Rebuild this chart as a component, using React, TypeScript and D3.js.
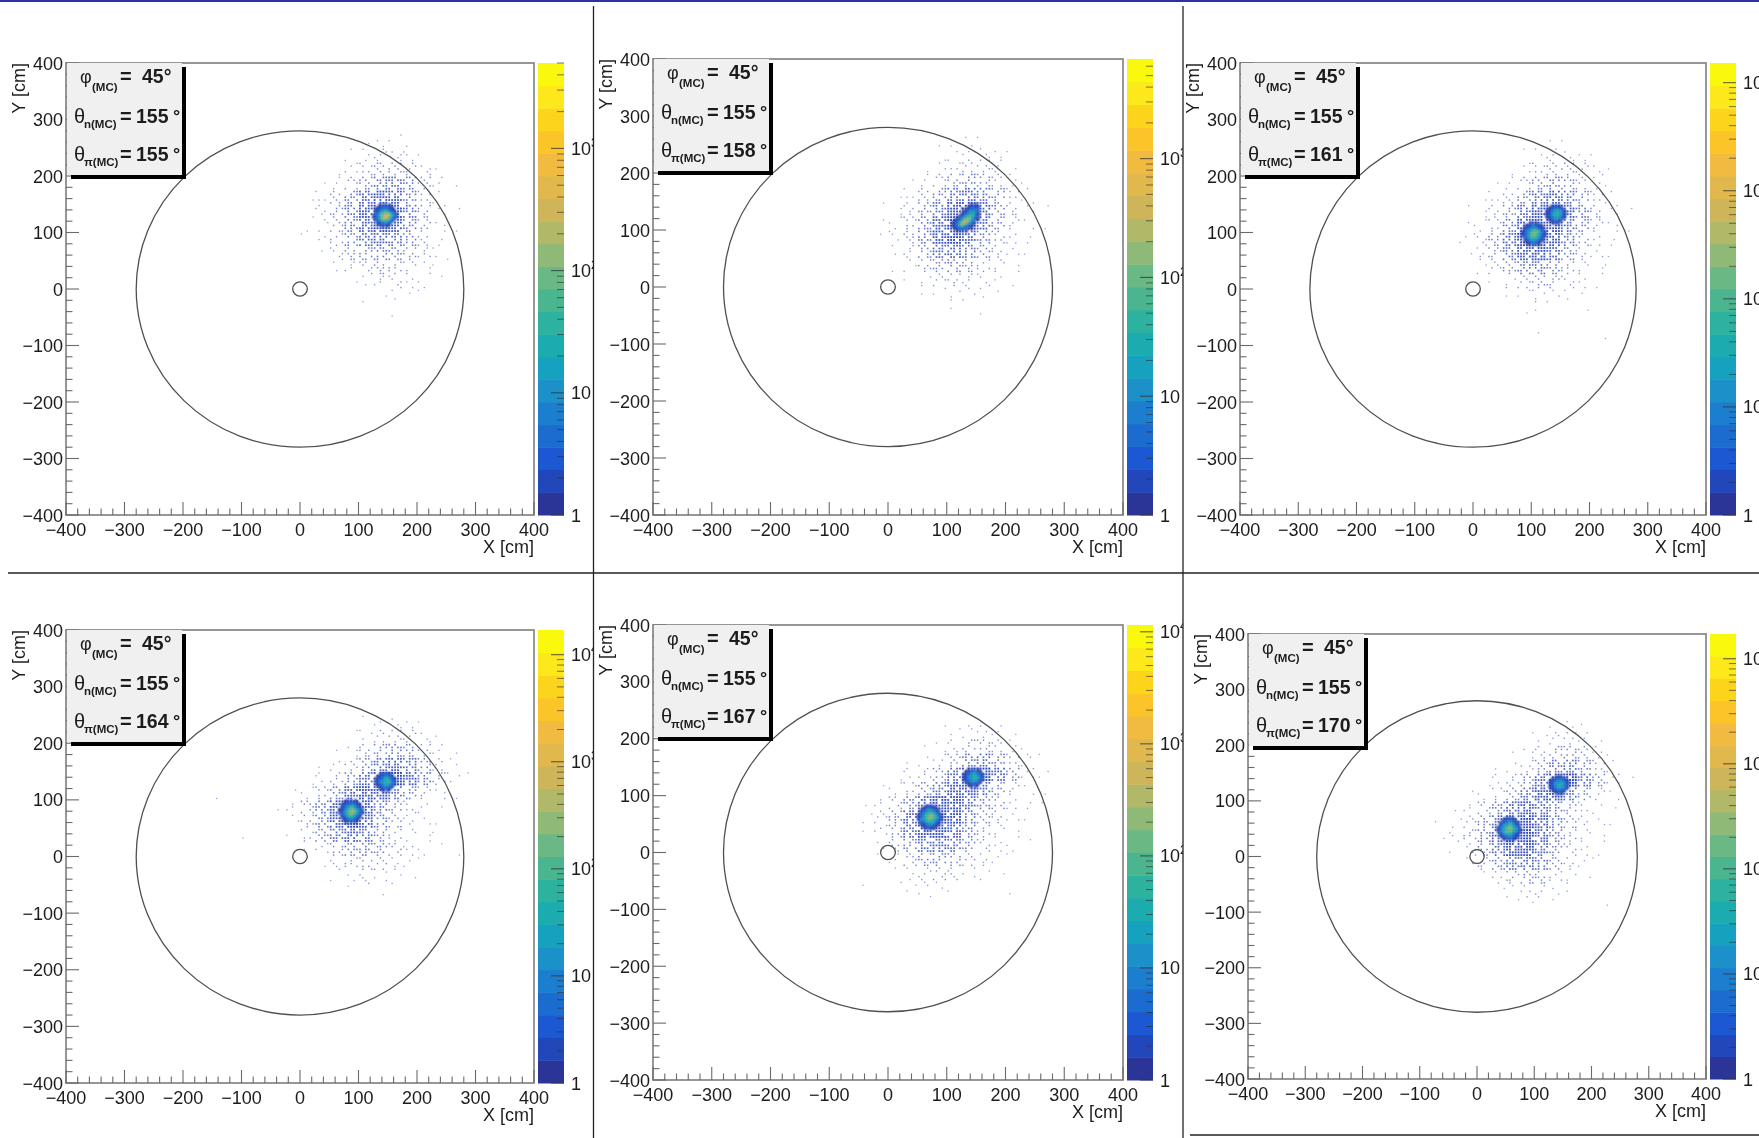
import React from "react";
import * as d3 from "d3";

// ---------- values ----------
const THETA_PI = [155, 158, 161, 164, 167, 170];
const PHI = 45;
const THETA_N = 155;
const AXIS_TICKS = [-400, -300, -200, -100, 0, 100, 200, 300, 400];
const MINOR_STEP = 20;
const BAR_MAX = [5000, 6900, 15200, 17000, 11500, 17200];
const DECADES = [1, 10, 100, 1000, 10000];
const OUTER_R = 280;
const HOLE_R = 12.5;
const BIRD = ["#2b3597","#2146bb","#1a58d2","#1e6cd0","#1f7ece","#1a90c8","#16a2be","#1eacb0","#2eb2a0","#4cb58f","#6ab884","#8fb976","#b1b968","#cfb55a","#e0b84e","#f0bb3f","#fbc52c","#fdd41f","#fde81a","#f9f80e"];

// halo: occupied 5 cm bins per 25 cm cell (base 36), x from -150, rows from y=300 downward
const HALO_1 = ["000000000000000000","000000000012210000","000000000235431000","000000001468864100","0000000136aefc7310","000000137chkic6200","000000148eknlf8310","000000137dimjd7310","000000126bghfb6200","0000000158acb85210","000000002468753100","000000000124532100","000000000011211000","000000000000100000"];
const HALO_2 = ["000000000000000000","000000000001100000","000000000123321000","000000001346641000","00000001369b963100","000000137bfhea5200","00000125aflmib6310","00000137cjnnha5210","00000137dkmic74200","00000025aghea63100","000000137ab9642000","000000013565421000","000000001233210000","000000000010100000"];
const HALO_3 = ["000000000000000000","000000000001100000","000000000124321000","000000001357753100","0000000136aca63100","000000136bgifa5200","00000125aglnjd7310","00000136dkmlgb6310","0000025ahmnke84200","00000148ejlhb63100","000000259deb742100","000000013687531000","000000001243210000","000000000110010000","000000000000000000","000000000010000100"];
const HALO_4 = ["000000000000000000","000000000000000000","000000000012321000","000000000135653100","00000000137aca6310","0000000136bgifa520","000000136bhmnjd731","10000137cilkfb6310","0000138dknke953100","0000027cjnjc842100","0010015afifa632100","000000148bca742110","000000014676421000","000000001243210000","000000000101000000"];
const HALO_5 = ["000000000000000000","000000000000000000","000000000000000000","000000000123431000","000000001247863100","00000001248dfb6310","0000001359gmnha420","00000136afkkga5210","0000137cimlhc84210","000025ahmnle963100","0000149glmic742000","0000026bghfa632100","00000137ab96421000","000000135653210000","000010123210001000","000000001000000000"];
const HALO_6 = ["000000000000000000","000000000000000000","000000000001210000","000000000124531000","000000001358974100","00000001259efb6200","000000136ahmnga410","000001259fkkf94200","0000137chjgc842100","000125aglmjd842100","000137cinnic742000","000015agllga631000","0000026bfge9521000","000000147985310000","000000012442100000","000000001101000100"];
const HALOS = [HALO_1, HALO_2, HALO_3, HALO_4, HALO_5, HALO_6];
const LATTICE_ORDER = [12,3,21,9,16,0,18,6,24,14,2,20,8,11,23,5,17,1,13,22,10,4,19,7,15];

// cores: palette level per fine bin, rows top to bottom; "." is no core bin
const CORE_BIN = 4;
const CORE_1 = { x: 145, y: 130, rows: ["...0.1.0...","..0112110..",".012344210.",".124677421.",".1368ba8631","0247adeb741","1258bed9632",".136897631.","..1246532..","..012210...","....0.0...."] };
const CORE_2 = { x: 130, y: 122, rows: [".........0.1.","........01110",".....0.012321","......0134541",".....01356731","....013578730","...01368a8520","..0136acb7410",".0136adb852..",".0248ca7520..",".013674310...","..012321.0...","...0.1.0....."] };
const CORE_3A = { x: 104, y: 98, rows: ["....0.0....","..0112110..",".012344210.",".124577421.","012579a7531","01369ba8520","12479a97421",".135787531.",".013565310.","..0123210..","...0.1.0..."] };
const CORE_3B = { x: 142, y: 131, rows: ["..01210..",".0123321.","012467420","013578631","123678531","012567420",".0134421.","..01210..","...0.0..."] };
const CORE_4A = { x: 87, y: 80, rows: ["...0.1.0...","..0112110..",".012244210.",".124677421.","01258aa7531","01369bc9631","12479ba8421",".135897531.",".012565310.","..0123210..","...0.1.0..."] };
const CORE_4B = { x: 146, y: 131, rows: ["..01110..",".0123321.","012467320","123578531","124678642","012567431",".0234421.","..01210..","...0.1..."] };
const CORE_5A = { x: 71, y: 62, rows: ["...01110...","..0123210..",".012456310.",".135687531.","02479ab8630","02479bb9741","13579a97520",".135787531.",".012465310.","..0123210..","...01110..."] };
const CORE_5B = { x: 145, y: 131, rows: ["..0.1.0..",".0123310.","012466320","023577531","123678642","023567420",".0134321.","..01210..","...0.0..."] };
const CORE_6A = { x: 56, y: 49, rows: ["...01110...","..0124210..",".012456310.",".135688531.","02469aa7530","02479ba8641","13579a97520",".135787421.",".012455310.","..0123210..","...0.1.0..."] };
const CORE_6B = { x: 143, y: 128, rows: ["...010...",".0122310.","012456320","123567431","123677532","012566420",".0134321.","..01210..","...0.1..."] };
const CORES = [[CORE_1], [CORE_2], [CORE_3A, CORE_3B], [CORE_4A, CORE_4B], [CORE_5A, CORE_5B], [CORE_6A, CORE_6B]];

// ---------- layout ----------
const FRAMES = [
  { x0: 66, x1: 534, y0: 63, y1: 515, clip: 593 },
  { x0: 653, x1: 1123, y0: 59, y1: 515, clip: 1183 },
  { x0: 1240, x1: 1706, y0: 63, y1: 515, clip: 1759 },
  { x0: 66, x1: 534, y0: 630, y1: 1083, clip: 593 },
  { x0: 653, x1: 1123, y0: 625, y1: 1080, clip: 1183 },
  { x0: 1248, x1: 1706, y0: 634, y1: 1079, clip: 1759 },
];
const FONT = "'Liberation Sans', Arial, sans-serif";
const INK = "#1c1c1c";
const AXIS = "#6a6a6a";
const fmt = (v: number) => (v < 0 ? "\u2212" + Math.abs(v) : String(v));

function Row({ lx, y, greek, sub, value, deg }: { lx: number; y: number; greek: string; sub: string; value: string; deg: boolean }) {
  return (
    <g fill={INK}>
      <text x={lx + (deg ? 7 : 13)} y={y} fontSize={deg ? 20 : 18}>{greek}</text>
      <text x={lx + (deg ? 17 : 25)} y={y + (deg ? 5 : 8)} fontSize={11.5} fontWeight="bold">{sub}</text>
      <text x={lx + 53} y={y} fontSize={20} fontWeight="bold">=</text>
      <text x={lx + (deg ? 69 : 75)} y={y} fontSize={19.5} fontWeight="bold">{value}</text>
      {deg ? <text x={lx + 106} y={y - 1} fontSize={18} fontWeight="bold">°</text> : null}
    </g>
  );
}

function Panel({ i }: { i: number }) {
  const f = FRAMES[i];
  const x = d3.scaleLinear().domain([-400, 400]).range([f.x0, f.x1]);
  const y = d3.scaleLinear().domain([-400, 400]).range([f.y1, f.y0]);
  const bar = d3.scaleLog().domain([1, BAR_MAX[i]]).range([f.y1, f.y0]);
  const band = d3.scaleLinear().domain([0, BIRD.length]).range([f.y1, f.y0]);
  const barL = f.x1 + 4;
  const barR = f.x1 + 30;
  const minors = d3.range(-400, 401, MINOR_STEP);
  const dens = d3.scaleLinear().domain([1, 25]).range([0.5, 1]);
  const size = d3.scaleLinear().domain([1, 25]).range([1.25, 2]);
  const dots: { x: number; y: number; o: number; s: number }[] = [];
  HALOS[i].forEach((row, r) => {
    row.split("").forEach((ch, c) => {
      const n = parseInt(ch, 36);
      const start = (c * 7 + r * 11) % LATTICE_ORDER.length;
      for (let k = 0; k < n; k++) {
        const cell = LATTICE_ORDER[(start + k) % LATTICE_ORDER.length];
        dots.push({
          x: -150 + 25 * c + 5 * (cell % 5) + 2.5,
          y: 300 - 25 * r - 5 * Math.floor(cell / 5) - 2.5,
          o: dens(n),
          s: size(n),
        });
      }
    });
  });
  const binW = x(CORE_BIN) - x(0);
  const binH = y(0) - y(CORE_BIN);
  const barTicks = DECADES.filter((d) => d <= BAR_MAX[i]);
  const barMinor: number[] = [];
  barTicks.forEach((d) => d3.range(2, 10).forEach((m) => { if (d * m <= BAR_MAX[i]) barMinor.push(d * m); }));
  const lx = f.x0 + 1;
  return (
    <g clipPath={`url(#clip${i})`}>
      <defs>
        <clipPath id={`clip${i}`}>
          <rect x={f.x0 - 70} y={f.y0 - 30} width={f.clip - f.x0 + 70} height={f.y1 - f.y0 + 90} />
        </clipPath>
      </defs>
      <rect x={f.x0} y={f.y0} width={f.x1 - f.x0} height={f.y1 - f.y0} fill="#fff" stroke="#8c8c8c" strokeWidth={1.8} />
      {minors.map((t) => (
        <g key={t} stroke={AXIS} strokeWidth={1.1}>
          <line x1={x(t)} x2={x(t)} y1={f.y1} y2={f.y1 - (t % 100 === 0 ? 13 : 6.5)} />
          <line y1={y(t)} y2={y(t)} x1={f.x0} x2={f.x0 + (t % 100 === 0 ? 13 : 6.5)} />
        </g>
      ))}
      <g fill="#2742b8">
        {dots.map((d, k) => (
          <rect key={k} x={x(d.x) - d.s / 2} y={y(d.y) - d.s / 2} width={d.s} height={d.s} opacity={d.o} />
        ))}
      </g>
      <g filter="url(#soft)">
        {CORES[i].map((core, b) =>
          core.rows.map((row, r) =>
            row.split("").map((ch, c) =>
              ch === "." ? null : (
                <rect
                  key={`${b}-${r}-${c}`}
                  x={x(core.x + (c - (row.length - 1) / 2) * CORE_BIN) - binW / 2}
                  y={y(core.y - (r - (core.rows.length - 1) / 2) * CORE_BIN) - binH / 2}
                  width={binW + 0.2}
                  height={binH + 0.2}
                  fill={BIRD[parseInt(ch, 36)]}
                />
              )
            )
          )
        )}
      </g>
      <ellipse cx={x(0)} cy={y(0)} rx={x(OUTER_R) - x(0)} ry={y(0) - y(OUTER_R)} fill="none" stroke="#505050" strokeWidth={1.3} />
      <ellipse cx={x(0)} cy={y(0)} rx={x(HOLE_R) - x(0)} ry={y(0) - y(HOLE_R)} fill="none" stroke="#505050" strokeWidth={1.3} />
      {BIRD.map((c, k) => (
        <rect key={c} x={barL} y={band(k + 1)} width={barR - barL} height={band(k) - band(k + 1) + 0.5} fill={c} />
      ))}
      {barMinor.map((t) => (
        <line key={t} x1={barR} x2={barR - 7} y1={bar(t)} y2={bar(t)} stroke="#333" strokeOpacity={0.65} strokeWidth={1} />
      ))}
      {barTicks.map((t, k) => (
        <g key={t}>
          <line x1={barR} x2={barR - 13} y1={bar(t)} y2={bar(t)} stroke="#333" strokeOpacity={0.75} strokeWidth={1.1} />
          <text x={barR + 7} y={bar(t) + 6.5} fontSize={18} fill={INK}>
            {k === 0 ? "1" : "10"}
            {k > 1 ? <tspan fontSize={12} dy={-8}>{k}</tspan> : null}
          </text>
        </g>
      ))}
      {AXIS_TICKS.map((t) => (
        <g key={t} fontSize={18} fill={INK}>
          <text x={x(t)} y={f.y1 + 21} textAnchor="middle">{fmt(t)}</text>
          <text x={f.x0 - 3} y={y(t) + 6.5} textAnchor="end">{fmt(t)}</text>
        </g>
      ))}
      <text x={f.x1} y={f.y1 + 38} textAnchor="end" fontSize={18} fill={INK}>X [cm]</text>
      <text transform={`translate(${f.x0 - 41},${f.y0}) rotate(-90)`} textAnchor="end" fontSize={18} fill={INK}>Y [cm]</text>
      <rect x={lx + 4} y={f.y0 + 4} width={115} height={112} fill="#000" />
      <rect x={lx} y={f.y0} width={115} height={112} fill="#f0f0f0" />
      <Row lx={lx} y={f.y0 + 20} greek="φ" sub="(MC)" value={`${PHI}°`} deg={false} />
      <Row lx={lx} y={f.y0 + 60} greek="θ" sub="n(MC)" value={`${THETA_N}`} deg={true} />
      <Row lx={lx} y={f.y0 + 98} greek="θ" sub="π(MC)" value={`${THETA_PI[i]}`} deg={true} />
    </g>
  );
}

export default function App() {
  return (
    <svg
      width={1759}
      height={1138}
      viewBox="0 0 1759 1138"
      style={{ position: "absolute", left: 0, top: 0, display: "block", background: "#fff" }}
      fontFamily={FONT}
    >
      <defs>
        <filter id="soft" x="-20%" y="-20%" width="140%" height="140%">
          <feGaussianBlur stdDeviation={1} />
        </filter>
        <filter id="page" x="0" y="0" width="1759" height="1138" filterUnits="userSpaceOnUse">
          <feGaussianBlur stdDeviation={0.35} />
        </filter>
      </defs>
      <rect x={0} y={0} width={1759} height={1138} fill="#fff" />
      <g filter="url(#page)">
        {FRAMES.map((_, i) => <Panel key={i} i={i} />)}
      </g>
      <rect x={0} y={0} width={1759} height={2} fill="#2f30a6" />
      <line x1={593.5} x2={593.5} y1={6} y2={1138} stroke="#222" strokeWidth={1.3} />
      <line x1={1183} x2={1183} y1={6} y2={1138} stroke="#222" strokeWidth={1.3} />
      <line x1={8} x2={1759} y1={573} y2={573} stroke="#222" strokeWidth={1.3} />
      <line x1={1190} x2={1759} y1={1135} y2={1135} stroke="#222" strokeWidth={1.3} />
    </svg>
  );
}
